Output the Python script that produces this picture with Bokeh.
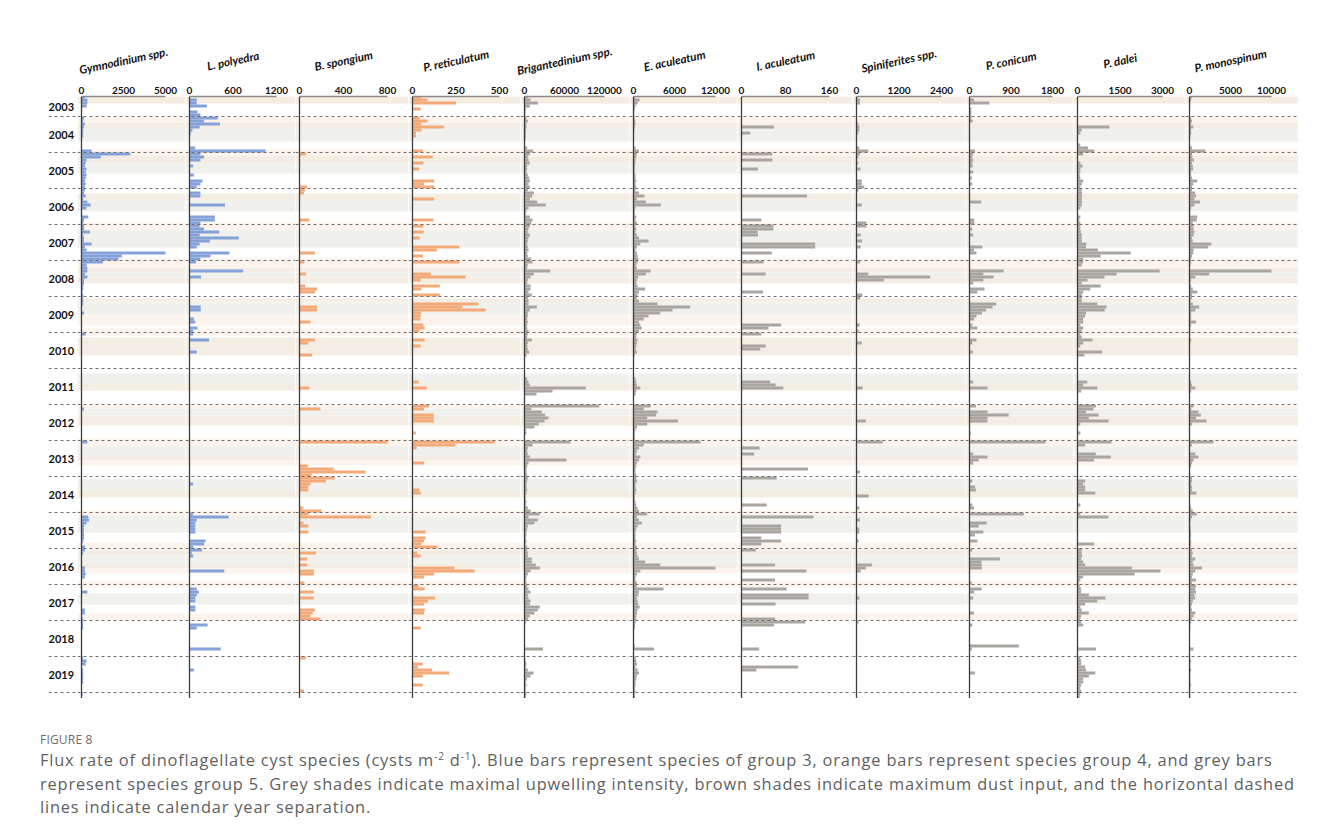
import pandas as pd
from bokeh.plotting import figure
from bokeh.models import (LinearAxis, FixedTicker, NumeralTickFormatter, Span,
                          ColumnDataSource, Range1d, Div)
from bokeh.layouts import row, column
from bokeh.embed import file_html
from bokeh.resources import INLINE
from bokeh.core.properties import value

# ---------------- DATA ----------------
# monthly sampling periods (sediment trap)
sampling_periods = [("2003-06", "2010-08"), ("2011-04", "2011-09"), ("2012-01", "2017-12"),
                    ("2018-01", "2018-04"), ("2018-09", "2018-10"), ("2019-01", "2020-02")]

years = list(range(2003, 2020))
year_labels = [str(y) for y in years]
year_separations = list(range(2004, 2021))

species_names = ["Gymnodinium spp.", "L. polyedra", "B. spongium", "P. reticulatum",
                 "Brigantedinium spp.", "E. aculeatum", "I. aculeatum", "Spiniferites spp.",
                 "P. conicum", "P. dalei", "P. monospinum"]
axis_max = [5000, 1200, 800, 500, 120000, 12000, 160, 2400, 1800, 3000, 10000]
species_group = [3, 3, 4, 4, 5, 5, 5, 5, 5, 5, 5]

# flux values per sample (cysts m-2 d-1); rows: 2003(Jun-Dec), 2004..2009, 2010(Jan-Aug),
# 2011(Apr-Sep), 2012..2017, 2018(Jan-Apr, Sep-Oct), 2019 + 2020(Jan-Feb)
gymnodinium = [
    200, 350, 350, 300, 0, 0, 0,
    150, 100, 200, 150, 100, 100, 100, 0, 0, 0, 0, 600,
    2900, 1150, 300, 250, 200, 300, 250, 300, 250, 200, 250, 200,
    200, 150, 250, 100, 350, 550, 300, 0, 0, 400, 150, 100,
    150, 150, 500, 100, 150, 150, 600, 200, 300, 5000, 2400, 2200,
    1270, 300, 350, 350, 200, 350, 150, 150, 100, 100, 50, 100,
    100, 100, 100, 0, 0, 150, 0, 0, 0, 0, 0, 0,
    250, 0, 0, 0, 0, 0, 0, 0,
    0, 0, 0, 0, 0, 0,
    0, 150, 0, 0, 0, 0, 0, 0, 0, 0, 0, 0,
    350, 0, 0, 0, 0, 0, 0, 0, 0, 0, 0, 0,
    0, 0, 0, 0, 0, 0, 0, 0, 0, 0, 0, 0,
    0, 400, 450, 300, 150, 150, 150, 150, 150, 100, 0, 200,
    200, 100, 0, 0, 0, 0, 200, 200, 250, 200, 0, 0,
    0, 0, 350, 0, 0, 0, 0, 0, 200, 200, 0, 100,
    100, 100, 100, 0, 0, 0,
    100, 300, 250, 0, 100, 100, 100, 100, 100, 0, 0, 0, 80, 0,
]
l_polyedra = [
    0, 100, 100, 240, 0, 110, 150,
    390, 200, 420, 140, 40, 20, 0, 0, 0, 0, 80, 1050,
    150, 200, 150, 0, 50, 0, 0, 60, 0, 180, 150, 100,
    0, 150, 150, 0, 0, 490, 0, 0, 0, 350, 350, 150,
    140, 200, 410, 140, 680, 280, 140, 100, 0, 550, 290, 150,
    90, 0, 0, 740, 0, 160, 0, 0, 0, 0, 0, 0,
    0, 0, 0, 155, 155, 0, 0, 60, 80, 0, 110, 50,
    50, 0, 270, 0, 0, 0, 100, 0,
    0, 0, 0, 0, 0, 0,
    0, 0, 0, 0, 0, 0, 0, 0, 0, 0, 0, 0,
    0, 0, 0, 0, 0, 0, 0, 0, 0, 0, 0, 0,
    0, 0, 50, 0, 0, 0, 0, 0, 0, 0, 0, 0,
    50, 540, 100, 80, 80, 80, 80, 0, 0, 220, 200, 50,
    170, 30, 50, 0, 0, 0, 0, 480, 0, 0, 0, 0,
    0, 100, 130, 100, 80, 80, 0, 80, 80, 0, 0, 0,
    0, 250, 100, 0, 0, 430,
    0, 0, 0, 0, 60, 0, 0, 0, 0, 0, 0, 0, 0, 0,
]
b_spongium = [
    0, 0, 0, 0, 0, 0, 0,
    0, 0, 0, 0, 0, 0, 0, 0, 0, 0, 0, 0,
    60, 0, 0, 0, 0, 0, 0, 0, 0, 0, 0, 70,
    50, 40, 0, 0, 0, 0, 0, 0, 0, 0, 90, 0,
    0, 0, 0, 0, 0, 0, 0, 0, 0, 140, 0, 0,
    45, 0, 0, 0, 60, 0, 0, 0, 50, 160, 140, 0,
    0, 0, 0, 160, 160, 0, 0, 0, 100, 0, 0, 0,
    0, 0, 140, 80, 0, 0, 0, 115,
    0, 0, 0, 90, 0, 0,
    0, 190, 0, 0, 0, 0, 0, 0, 0, 0, 0, 0,
    800, 0, 0, 0, 0, 0, 0, 0, 75, 310, 600, 110,
    320, 240, 100, 80, 80, 0, 0, 0, 0, 0, 35, 200,
    80, 650, 0, 35, 80, 0, 80, 0, 0, 0, 0, 0,
    0, 150, 0, 70, 0, 70, 0, 130, 130, 0, 0, 45,
    0, 0, 130, 0, 130, 0, 0, 0, 140, 120, 100, 190,
    0, 0, 0, 0, 0, 0,
    60, 0, 0, 0, 0, 0, 0, 0, 0, 0, 0, 40, 0, 0,
]
p_reticulatum = [
    47, 87, 250, 0, 47, 0, 0,
    42, 87, 50, 180, 52, 20, 20, 0, 0, 0, 0, 60,
    0, 117, 0, 63, 0, 38, 0, 0, 0, 125, 66, 125,
    0, 0, 0, 125, 0, 0, 0, 0, 0, 0, 120, 0,
    63, 0, 63, 0, 42, 0, 0, 270, 140, 0, 60, 0,
    270, 0, 0, 0, 106, 305, 47, 0, 157, 52, 0, 157,
    0, 0, 378, 287, 420, 50, 47, 45, 0, 63, 70, 40,
    0, 0, 70, 0, 47, 0, 0, 0,
    0, 35, 0, 82, 0, 0,
    94, 66, 0, 122, 122, 122, 0, 0, 0, 19, 0, 0,
    472, 247, 23, 0, 0, 0, 0, 66, 0, 0, 0, 0,
    0, 0, 0, 0, 40, 47, 0, 0, 0, 0, 0, 0,
    0, 0, 0, 0, 0, 0, 75, 0, 75, 66, 50, 145,
    0, 28, 47, 0, 0, 0, 240, 357, 125, 66, 0, 0,
    35, 70, 0, 0, 130, 90, 66, 0, 70, 66, 0, 0,
    0, 0, 47, 0, 0, 0,
    0, 0, 59, 30, 113, 211, 59, 0, 0, 59, 0, 0, 0, 0,
]
brigantedinium = [
    5000, 9000, 20000, 8000, 2000, 1500, 1500,
    3000, 5000, 3000, 3000, 2500, 2000, 2000, 1500, 0, 0, 4000, 13000,
    8000, 5000, 6000, 8000, 4000, 4000, 3000, 5000, 7000, 8000, 6000, 8000,
    5000, 14000, 11500, 8000, 19000, 32000, 6000, 3000, 2000, 8000, 12000, 10000,
    8000, 6000, 5000, 8000, 6000, 5000, 4000, 5000, 6000, 4000, 5000, 10000,
    12000, 5000, 4000, 38700, 14000, 9000, 5000, 4000, 9000, 9000, 6000, 11000,
    5000, 6000, 6000, 18500, 8000, 5000, 5000, 4000, 5000, 4000, 4000, 6000,
    5000, 4000, 11000, 5000, 4000, 5000, 7000, 3000,
    4000, 6000, 8000, 92000, 42000, 18000,
    112000, 10000, 26000, 31000, 36000, 30000, 21500, 15000, 2000, 3000, 0, 0,
    69000, 12000, 5000, 4000, 5000, 8000, 63000, 6000, 4000, 3000, 3000, 4000,
    5000, 4000, 3000, 3000, 4000, 3000, 2000, 2000, 3000, 2000, 5000, 9000,
    23000, 6000, 20000, 15000, 5000, 4000, 3000, 3000, 2000, 3000, 2000, 4000,
    4000, 5000, 5000, 11000, 11000, 17000, 23000, 9000, 5000, 3000, 2000, 3000,
    4000, 6000, 9000, 5000, 6000, 9000, 8000, 23000, 20000, 15000, 8000, 5000,
    2000, 1000, 1000, 0, 1000, 27700,
    1000, 2000, 3000, 2000, 5000, 13500, 9000, 4000, 2000, 3000, 2000, 2000, 3000, 2000,
]
e_aculeatum = [
    200, 880, 600, 300, 200, 100, 100,
    200, 250, 300, 200, 150, 100, 100, 100, 0, 0, 300, 780,
    500, 400, 300, 300, 200, 200, 200, 300, 300, 400, 300, 400,
    300, 800, 1600, 500, 1800, 4000, 300, 200, 200, 400, 300, 500,
    300, 400, 300, 500, 800, 2200, 1000, 500, 300, 500, 600, 700,
    600, 400, 500, 2500, 1800, 700, 500, 400, 600, 1700, 800, 600,
    500, 800, 3500, 8300, 5700, 3900, 2200, 1500, 800, 1000, 1200, 800,
    500, 400, 600, 500, 400, 300, 500, 200,
    300, 400, 500, 1000, 400, 300,
    2500, 1500, 3500, 3300, 2000, 6500, 2000, 500, 300, 200, 200, 200,
    9800, 1500, 800, 500, 400, 1000, 800, 500, 400, 300, 300, 400,
    400, 500, 300, 300, 400, 300, 200, 200, 300, 400, 600, 800,
    2000, 500, 800, 1200, 600, 400, 300, 300, 300, 400, 300, 500,
    400, 500, 600, 800, 1700, 3900, 12000, 1000, 500, 300, 300, 500,
    500, 4400, 800, 700, 500, 600, 700, 900, 600, 500, 400, 400,
    300, 200, 200, 0, 200, 3000,
    300, 400, 500, 300, 600, 800, 500, 400, 300, 300, 200, 300, 200, 200,
]
i_aculeatum = [
    0, 0, 0, 0, 0, 0, 0,
    0, 0, 0, 59, 0, 16, 0, 0, 0, 0, 0, 0,
    56, 0, 56, 0, 0, 30, 0, 0, 0, 0, 0, 0,
    0, 0, 119, 0, 0, 0, 0, 0, 0, 0, 36, 0,
    58, 58, 29, 30, 0, 0, 134, 134, 0, 55, 0, 0,
    40, 0, 0, 0, 44, 0, 0, 0, 0, 0, 39, 0,
    0, 0, 0, 0, 0, 0, 0, 0, 0, 72, 49, 0,
    36, 0, 0, 0, 44, 34, 0, 0,
    0, 52, 62, 76, 0, 0,
    0, 0, 0, 0, 0, 0, 0, 0, 0, 0, 0, 0,
    0, 0, 33, 0, 23, 0, 0, 0, 0, 121, 0, 0,
    64, 0, 0, 0, 0, 0, 0, 0, 0, 46, 0, 0,
    0, 131, 0, 0, 72, 72, 72, 0, 36, 72, 36, 0,
    26, 0, 0, 0, 0, 61, 0, 118, 0, 0, 61, 0,
    0, 82, 0, 122, 122, 0, 62, 0, 0, 0, 0, 61,
    116, 59, 0, 0, 0, 32,
    0, 0, 0, 103, 27, 0, 0, 0, 0, 0, 0, 0, 0, 0,
]
spiniferites = [
    0, 100, 100, 0, 0, 0, 0,
    0, 0, 50, 80, 80, 50, 0, 0, 0, 0, 80, 330,
    100, 50, 0, 50, 0, 115, 0, 0, 0, 150, 150, 220,
    60, 0, 0, 0, 0, 150, 0, 0, 0, 0, 0, 280,
    280, 0, 0, 120, 0, 160, 0, 120, 0, 0, 0, 0,
    100, 0, 0, 0, 330, 2080, 770, 0, 0, 0, 0, 160,
    100, 0, 0, 0, 0, 0, 0, 0, 0, 90, 0, 60,
    0, 0, 0, 150, 0, 0, 0, 0,
    0, 0, 0, 170, 0, 0,
    0, 0, 0, 0, 0, 265, 0, 0, 0, 0, 0, 0,
    740, 0, 0, 0, 0, 0, 0, 0, 0, 0, 100, 0,
    0, 0, 0, 0, 0, 0, 345, 0, 0, 0, 80, 0,
    0, 0, 100, 0, 0, 80, 80, 0, 0, 60, 0, 0,
    0, 0, 0, 0, 0, 440, 265, 120, 0, 0, 0, 0,
    0, 0, 0, 0, 80, 0, 0, 0, 0, 0, 0, 0,
    60, 0, 0, 0, 0, 0,
    0, 0, 0, 0, 0, 0, 0, 0, 0, 0, 0, 0, 0, 0,
]
p_conicum = [
    0, 100, 430, 0, 40, 40, 40,
    40, 70, 0, 0, 0, 0, 0, 0, 0, 0, 0, 120,
    80, 60, 80, 60, 70, 0, 80, 0, 50, 0, 60, 0,
    0, 0, 0, 0, 255, 0, 0, 0, 0, 0, 105, 105,
    0, 60, 0, 80, 0, 0, 0, 280, 100, 150, 0, 0,
    0, 0, 0, 740, 300, 520, 300, 80, 0, 325, 170, 0,
    0, 0, 580, 500, 360, 270, 150, 100, 0, 60, 170, 0,
    0, 0, 150, 60, 0, 0, 70, 0,
    0, 80, 0, 390, 0, 0,
    140, 0, 390, 850, 390, 390, 0, 0, 0, 30, 0, 0,
    1650, 0, 0, 0, 80, 390, 200, 80, 0, 0, 0, 0,
    0, 60, 0, 120, 140, 0, 0, 0, 0, 60, 100, 0,
    1180, 0, 0, 370, 200, 0, 300, 120, 0, 170, 0, 0,
    60, 0, 0, 660, 260, 265, 265, 0, 0, 0, 0, 50,
    0, 265, 100, 0, 80, 0, 0, 0, 0, 100, 0, 0,
    0, 60, 0, 0, 1070, 50,
    0, 0, 0, 0, 0, 120, 0, 0, 0, 0, 0, 0, 0, 0,
]
p_dalei = [
    0, 0, 0, 0, 0, 0, 0,
    0, 0, 0, 1130, 150, 100, 0, 0, 0, 100, 370, 590,
    200, 0, 0, 100, 180, 100, 100, 80, 100, 200, 150, 100,
    150, 160, 160, 150, 160, 150, 100, 0, 0, 100, 60, 100,
    100, 100, 120, 150, 150, 150, 315, 300, 720, 1880, 820, 200,
    200, 150, 0, 2900, 1380, 950, 350, 150, 820, 450, 200, 150,
    150, 150, 700, 1020, 960, 300, 270, 200, 200, 100, 200, 150,
    100, 150, 530, 200, 100, 0, 870, 240,
    0, 345, 200, 700, 130, 0,
    650, 560, 300, 750, 400, 1100, 100, 0, 0, 100, 0, 0,
    1200, 270, 0, 0, 645, 1180, 590, 0, 0, 0, 0, 0,
    0, 270, 200, 270, 270, 630, 0, 0, 0, 100, 0, 0,
    100, 1090, 0, 0, 0, 0, 0, 0, 0, 0, 590, 0,
    150, 150, 160, 130, 200, 270, 1920, 2930, 2020, 200, 100, 50,
    80, 130, 130, 400, 990, 700, 270, 100, 150, 400, 130, 100,
    130, 200, 0, 0, 0, 650,
    100, 130, 130, 270, 300, 630, 400, 200, 200, 130, 100, 130, 100, 80,
]
p_monospinum = [
    300, 200, 100, 100, 0, 0, 0,
    200, 300, 200, 450, 200, 200, 100, 0, 0, 0, 300, 1930,
    300, 350, 540, 300, 400, 450, 200, 200, 300, 940, 450, 300,
    300, 700, 800, 600, 1290, 600, 200, 100, 100, 940, 900, 400,
    500, 500, 600, 500, 300, 400, 2670, 2280, 500, 450, 300, 200,
    200, 100, 0, 10000, 2400, 700, 200, 100, 200, 400, 940, 300,
    300, 100, 400, 1190, 700, 200, 200, 200, 800, 200, 100, 100,
    100, 0, 200, 100, 0, 0, 0, 0,
    0, 200, 300, 700, 200, 0,
    500, 200, 1090, 1390, 800, 2080, 300, 0, 0, 0, 0, 0,
    2920, 300, 0, 0, 700, 1090, 500, 300, 200, 0, 0, 100,
    300, 300, 200, 300, 300, 840, 0, 0, 0, 100, 200, 400,
    890, 300, 150, 100, 100, 150, 200, 200, 150, 200, 200, 150,
    300, 400, 300, 690, 400, 500, 1530, 700, 400, 300, 800, 300,
    800, 700, 800, 600, 700, 400, 300, 200, 300, 700, 500, 300,
    200, 100, 100, 0, 0, 500,
    100, 200, 100, 100, 200, 100, 100, 100, 100, 200, 100, 100, 100, 100,
]
species_values = [gymnodinium, l_polyedra, b_spongium, p_reticulatum, brigantedinium,
                  e_aculeatum, i_aculeatum, spiniferites, p_conicum, p_dalei, p_monospinum]

# shaded periods (decimal years)
upwelling_max = [(2004.333, 2004.694), (2005.306, 2005.583), (2006.333, 2006.639),
                 (2007.139, 2007.639), (2008.333, 2008.472), (2009.167, 2009.5),
                 (2011.139, 2011.389), (2012.111, 2012.306), (2013.139, 2013.417),
                 (2014.056, 2014.389), (2015.083, 2015.556), (2016.194, 2016.417),
                 (2017.25, 2017.556)]
dust_max = [(2003.444, 2003.639), (2004.167, 2004.333), (2005.083, 2005.306),
            (2006.139, 2006.333), (2008.194, 2008.333), (2008.472, 2008.639),
            (2009.056, 2009.167), (2010.139, 2010.639), (2011.389, 2011.611),
            (2012.306, 2012.583), (2013.417, 2013.556), (2014.389, 2014.583),
            (2016.028, 2016.194), (2016.417, 2016.556)]
dust_moderate = [(2004.028, 2004.167), (2004.917, 2005.083), (2006.944, 2007.139),
                 (2007.944, 2008.194), (2009.5, 2009.806), (2009.889, 2010.083),
                 (2012.028, 2012.111), (2012.944, 2013.139), (2013.556, 2013.694),
                 (2014.944, 2015.083), (2015.833, 2016.028), (2016.556, 2016.694),
                 (2016.917, 2017.083), (2017.806, 2018.0)]

# ---------------- STYLE / LAYOUT ----------------
group_colors = {3: "#84a1d9", 4: "#f3aa78", 5: "#a9a5a1"}
shade_colors = {"up": "#f0f1ed", "dust": "#f3ede3", "dust2": "#fcf3ec"}
panel_px = [108, 110, 113, 112, 109, 108, 115, 113, 108, 112, 113]
axis_px = [84, 87, 88, 87, 80, 82, 88, 85, 83, 85, 82]
title_lshift = [0, 0, 0, 0, -14, 0, 0, 0, 0, 0, 0]   # title cell left-edge shifts (px)
PAD = 4
TITLE_H = 78          # height of the row holding the rotated species names
TITLE_Y = 18          # title centre, px above that row's bottom
TOP_BORDER = 18       # space for the top axis
FRAME_H = 602
LEFT_W = 77           # year-label column
LEFT_BORDER = 48
FONT = "Lato"

sample_t = []
for start, end in sampling_periods:
    for per in pd.period_range(start, end, freq="M"):
        sample_t.append(per.year + (per.month - 0.5) / 12.0)
for vals in species_values:
    assert len(vals) == len(sample_t), (len(vals), len(sample_t))

y_top = 2003 + 16 / 36.0
y_bottom = 2020 + 6 / 36.0
y_range = Range1d(start=y_bottom, end=y_top)


def clean(p):
    p.outline_line_color = None
    p.grid.visible = False
    p.background_fill_color = "white"
    p.border_fill_color = "white"
    return p


def base_fig(width, xr, left_border=0):
    p = figure(width=width, height=TOP_BORDER + FRAME_H, x_range=xr, y_range=y_range,
               output_backend="svg", toolbar_location=None,
               x_axis_location=None, y_axis_location=None,
               min_border_top=TOP_BORDER, min_border_bottom=0,
               min_border_left=left_border, min_border_right=0)
    return clean(p)


def title_fig(width, xr):
    p = figure(width=width, height=TITLE_H, x_range=xr, y_range=Range1d(0, TITLE_H),
               output_backend="svg", toolbar_location=None,
               x_axis_location=None, y_axis_location=None,
               min_border=0)
    return clean(p)


def add_shades(p, x0, x1):
    for kind, periods in (("up", upwelling_max), ("dust", dust_max), ("dust2", dust_moderate)):
        src = ColumnDataSource(dict(
            y=[(a + b) / 2 for a, b in periods],
            h=[b - a for a, b in periods]))
        p.hbar(y="y", height="h", left=x0, right=x1, source=src,
               fill_color=shade_colors[kind], line_color=None)


figs = []
tfigs = []
# year label column
f0 = base_fig(LEFT_W, Range1d(0, 1), left_border=LEFT_BORDER)
f0.text(x=[0.44] * len(years),
        y=[(max(y, y_top) + y + 1) / 2 for y in years],
        text=year_labels, text_align="center", text_baseline="middle",
        text_font=value(FONT), text_font_style="bold", text_font_size="11px",
        text_color="#111111")
for ys in year_separations:
    f0.add_layout(Span(location=ys, dimension="width", line_color="#707070",
                       line_dash="3 3", line_width=1))
figs.append(f0)
tfigs.append(title_fig(LEFT_W + title_lshift[0], Range1d(0, 1)))

n = len(species_names)
for i, name in enumerate(species_names):
    s = axis_max[i] / axis_px[i]
    x0 = -PAD * s
    x1 = (panel_px[i] - PAD) * s
    p = base_fig(panel_px[i], Range1d(x0, x1))
    add_shades(p, x0, x1)
    t = [tt for tt, v in zip(sample_t, species_values[i]) if v > 0]
    v = [v for v in species_values[i] if v > 0]
    src = ColumnDataSource(dict(t=t, v=v))
    p.hbar(y="t", left=0, right="v", height=1.0 / 12, source=src,
           fill_color=group_colors[species_group[i]], line_color=None)
    for ys in year_separations:
        p.add_layout(Span(location=ys, dimension="width", line_color="#707070",
                          line_dash="3 3", line_width=1))
    p.add_layout(Span(location=0, dimension="height", line_color="#3c3c3c", line_width=1.3))
    ax = LinearAxis(ticker=FixedTicker(ticks=[0, axis_max[i] / 2, axis_max[i]]),
                    formatter=NumeralTickFormatter(format="0"),
                    bounds=(0, axis_max[i]))
    ax.axis_line_color = "#8a8a8a"
    ax.axis_line_width = 1.5
    ax.major_tick_line_color = None
    ax.minor_tick_line_color = None
    ax.major_tick_out = 0
    ax.major_tick_in = 0
    ax.major_label_standoff = 3
    ax.major_label_text_font = FONT
    ax.major_label_text_font_style = "bold"
    ax.major_label_text_font_size = "10px"
    ax.major_label_text_color = "#111111"
    p.add_layout(ax, "above")
    figs.append(p)

    ls = title_lshift[i]
    rs = title_lshift[i + 1] if i + 1 < n else 0
    tf = title_fig(panel_px[i] - ls + rs, Range1d(x0 + ls * s, x1 + rs * s))
    tf.text(x=[axis_max[i] / 2], y=[TITLE_Y], text=[name], angle=12, angle_units="deg",
            text_align="center", text_baseline="middle", text_font=value(FONT),
            text_font_style="bold italic", text_font_size="11.5px", text_color="#111111")
    tfigs.append(tf)

caption = Div(text=(
    "<div style=\"font-family:'Open Sans'; color:#6b6b6b; font-size:12px; line-height:16px; "
    "letter-spacing:0.2px; margin-bottom:-3px;\">FIGURE 8</div>"
    "<div style=\"font-family:'Open Sans'; color:#5f5f5f; font-size:16.4px; "
    "letter-spacing:0.82px; line-height:23.5px; white-space:nowrap;\">"
    "Flux rate of dinoflagellate cyst species (cysts m<sup style='font-size:10px'>-2</sup> "
    "d<sup style='font-size:10px'>-1</sup>). Blue bars represent species of group 3, orange bars "
    "represent species group 4, and grey bars<br>represent species group 5. Grey shades indicate "
    "maximal upwelling intensity, brown shades indicate maximum dust input, and the horizontal "
    "dashed<br>lines indicate calendar year separation.</div>"),
    width=1280, height=100, margin=(34, 0, 0, 40))

layout = column(row(*tfigs), row(*figs), caption)
open("out.html", "w").write(file_html(layout, INLINE))
